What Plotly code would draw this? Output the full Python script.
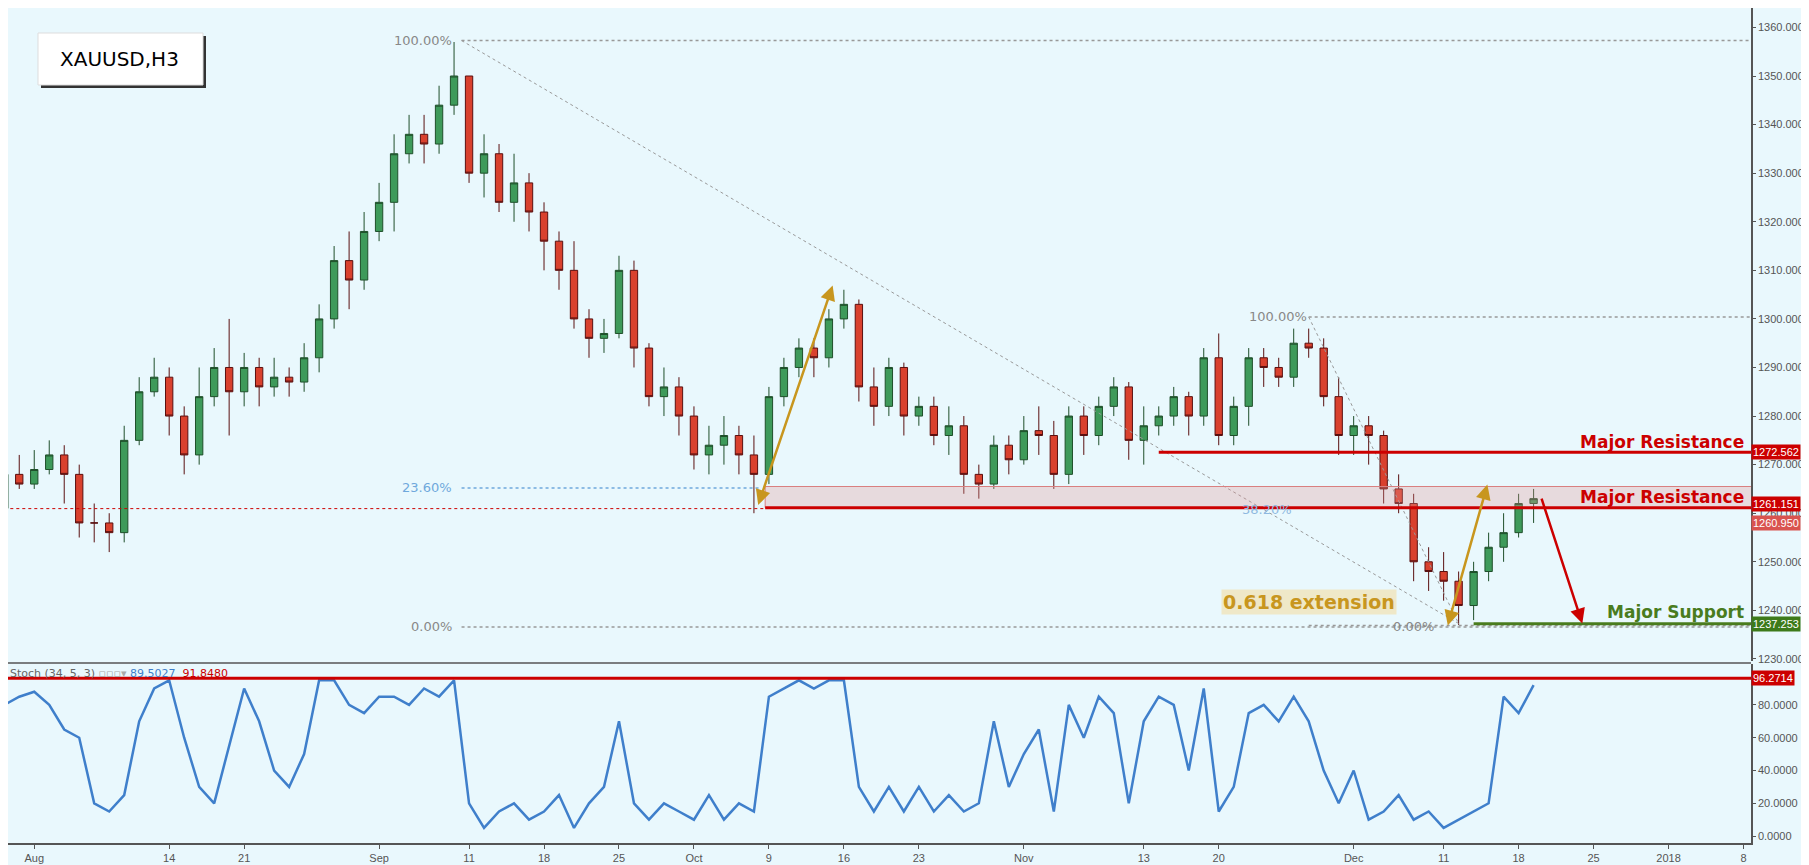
import plotly.graph_objects as go
import pandas as pd

dates = [d.strftime("%Y-%m-%d") for d in pd.bdate_range("2017-07-28", "2017-12-19")]

opens = [1261,1268,
 1266,1269,1272,1268,
 1258,1258,1256,1275,1285,
 1288,1280,1272,1284,1290,
 1285,1290,1286,1288,1287,
 1292,1300,1312,1308,1318,
 1324,1334,1338,1336,1344,
 1350,1330,1334,1324,1328,
 1322,1316,1310,1300,1296,
 1297,1310,1294,1284,1286,
 1280,1272,1274,1276,1272,
 1268,1284,1290,1294,1292,
 1300,1303,1286,1282,1290,
 1280,1282,1276,1278,1268,
 1266,1274,1271,1277,1276,
 1268,1280,1276,1282,1286,
 1275,1278,1280,1284,1280,
 1292,1276,1282,1292,1290,
 1288,1295,1294,1284,1276,
 1278,1276,1265,1262,1250,
 1248,1246,1241,1248,1253,
 1256,1262]
highs = [1270,1272,
 1273,1275,1274,1270,
 1262,1260,1278,1288,1292,
 1290,1282,1290,1294,1300,
 1293,1292,1292,1290,1295,
 1303,1315,1318,1322,1328,
 1338,1342,1342,1348,1357,
 1347,1338,1336,1334,1330,
 1324,1318,1316,1302,1300,
 1313,1312,1295,1290,1288,
 1282,1278,1280,1278,1276,
 1286,1292,1296,1296,1302,
 1306,1304,1290,1292,1291,
 1284,1284,1282,1280,1270,
 1276,1276,1280,1282,1279,
 1282,1282,1284,1288,1287,
 1282,1282,1286,1285,1294,
 1297,1284,1294,1294,1292,
 1298,1298,1296,1288,1280,
 1280,1277,1268,1264,1253,
 1252,1248,1250,1256,1260,
 1264,1265]
lows = [1259,1265,
 1265,1268,1262,1255,
 1254,1252,1254,1274,1284,
 1276,1268,1270,1282,1276,
 1282,1282,1284,1284,1285,
 1289,1298,1302,1306,1316,
 1318,1332,1332,1334,1342,
 1328,1325,1322,1320,1318,
 1310,1306,1298,1292,1293,
 1296,1290,1282,1280,1276,
 1269,1268,1270,1268,1260,
 1266,1282,1288,1288,1290,
 1298,1283,1278,1280,1276,
 1278,1274,1272,1264,1263,
 1265,1268,1270,1272,1265,
 1266,1272,1274,1280,1271,
 1270,1276,1278,1276,1278,
 1274,1274,1278,1286,1286,
 1286,1292,1282,1272,1272,
 1270,1262,1260,1246,1244,
 1242,1237,1238,1246,1250,
 1255,1258]
closes = [1268,1266,
 1269,1272,1268,1258,
 1258,1256,1275,1285,1288,
 1280,1272,1284,1290,1285,
 1290,1286,1288,1287,1292,
 1300,1312,1308,1318,1324,
 1334,1338,1336,1344,1350,
 1330,1334,1324,1328,1322,
 1316,1310,1300,1296,1297,
 1310,1294,1284,1286,1280,
 1272,1274,1276,1272,1268,
 1284,1290,1294,1292,1300,
 1303,1286,1282,1290,1280,
 1282,1276,1278,1268,1266,
 1274,1271,1277,1276,1268,
 1280,1276,1282,1286,1275,
 1278,1280,1284,1280,1292,
 1276,1282,1292,1290,1288,
 1295,1294,1284,1276,1278,
 1276,1265,1262,1250,1248,
 1246,1241,1248,1253,1256,
 1262,1263]
stoch = [80,85,
 88,80,65,60,
 20,15,25,70,90,
 95,60,30,20,55,
 90,70,40,30,50,
 95,95,80,75,85,
 85,80,90,85,95,
 20,5,15,20,10,
 15,25,5,20,30,
 70,20,10,20,15,
 10,25,10,20,15,
 85,90,95,90,95,
 95,30,15,30,15,
 30,15,25,15,20,
 70,30,50,65,15,
 80,60,85,75,20,
 70,85,80,40,90,
 15,30,75,80,70,
 85,70,40,20,40,
 10,15,25,10,15,
 5,10,15,20,85,
 75,92]

highs = [max(h, o, c) for h, o, c in zip(highs, opens, closes)]
lows = [min(l, o, c) for l, o, c in zip(lows, opens, closes)]

tick_vals = ["2017-08-01","2017-08-14","2017-08-21","2017-09-01","2017-09-11","2017-09-18","2017-09-25",
             "2017-10-02","2017-10-09","2017-10-16","2017-10-23","2017-11-01","2017-11-13","2017-11-20",
             "2017-12-01","2017-12-11","2017-12-18","2017-12-25","2018-01-01","2018-01-08"]
tick_text = ["Aug","14","21","Sep","11","18","25","Oct","9","16","23","Nov","13","20","Dec","11","18","25","2018","8"]

RED = "#CC0000"
ORANGE = "#C8961E"
GREEN = "#4A7C1E"
BG = "#E9F8FD"
AXFONT = dict(size=11, color="#555", family="Arial, Liberation Sans")
W, H, R, B = 1809, 865, 66, 30
PW, PH = W - R, H - B

fig = go.Figure()
fig.add_trace(go.Candlestick(x=dates, open=opens, high=highs, low=lows, close=closes,
    increasing=dict(line=dict(color="#1F4F2A", width=1), fillcolor="#3E9A5A"),
    decreasing=dict(line=dict(color="#5A1010", width=1), fillcolor="#D9412E"),
    whiskerwidth=0, xaxis="x", yaxis="y", showlegend=False, hoverinfo="skip"))
fig.add_trace(go.Scatter(x=dates, y=stoch, mode="lines", line=dict(color="#3F7FCB", width=2.5),
    xaxis="x", yaxis="y2", showlegend=False, hoverinfo="skip"))

RIGHT = "2018-01-09"
shapes = []
def hline(x0, x1, y, color, width=1, dash="solid"):
    shapes.append(dict(type="line", xref="x", yref="y", x0=x0, x1=x1 or RIGHT, y0=y, y1=y,
                       line=dict(color=color, width=width, dash=dash)))

hline("2017-09-08 12:00", None, 1357.3, "#999999", 1.5, "dot")
hline("2017-09-08 12:00", None, 1236.6, "#999999", 1.5, "dot")
hline("2017-09-08 12:00", "2017-10-06 12:00", 1265.2, "#6FA8DC", 1.5, "dot")
shapes.append(dict(type="line", xref="x", yref="y", x0="2017-09-08 12:00", y0=1357.3, x1="2017-12-12", y1=1237.3,
                   line=dict(color="#999999", width=1, dash="dot")))
hline("2017-11-28", None, 1300.4, "#999999", 1.5, "dot")
hline("2017-11-28", None, 1236.9, "#999999", 1.5, "dot")
shapes.append(dict(type="line", xref="x", yref="y", x0="2017-11-28", y0=1300.4, x1="2017-12-12", y1=1237.3,
                   line=dict(color="#999999", width=1, dash="dot")))
shapes.append(dict(type="rect", xref="x", yref="y", x0="2017-10-06 18:00", x1=RIGHT, y0=1261.15, y1=1265.5,
                   fillcolor="rgba(230,150,150,0.3)", line=dict(color="#D98080", width=1)))
hline("2017-10-06 18:00", None, 1261.15, RED, 3)
hline("2017-07-20", "2017-10-06 18:00", 1260.95, RED, 1, "dot")
hline("2017-11-14", None, 1272.562, RED, 3)
hline("2017-12-13", None, 1237.253, GREEN, 3)
shapes.append(dict(type="line", xref="paper", yref="y2", x0=0, x1=1, y0=96.2714, y1=96.2714, line=dict(color=RED, width=3)))
shapes.append(dict(type="line", xref="paper", yref="paper", x0=0, x1=1, y0=0.2155, y1=0.2155, line=dict(color="#555", width=1.5)))
shapes.append(dict(type="rect", xref="paper", yref="paper", x0=33/PW, x1=198/PW, y0=1-80/PH, y1=1-28/PH,
                   fillcolor="#333", line=dict(width=0), layer="above"))
shapes.append(dict(type="rect", xref="paper", yref="paper", x0=30/PW, x1=195/PW, y0=1-77/PH, y1=1-25/PH,
                   fillcolor="white", line=dict(color="#ddd", width=1), layer="above"))

ann = []
def txt(x, y, s, color, size=12, xanchor="center", yref="y", xref="x", bold=False, bg=None):
    d = dict(x=x, y=y, xref=xref, yref=yref, text=("<b>%s</b>" % s) if bold else s, showarrow=False,
             font=dict(color=color, size=size, family="Verdana, DejaVu Sans"), xanchor=xanchor, yanchor="middle")
    if bg:
        d.update(bgcolor=bg)
    ann.append(d)

txt("2017-09-08", 1357.3, "100.00%", "#888", 13, "right")
txt("2017-09-08", 1236.6, "0.00%", "#888", 13, "right")
txt("2017-09-08", 1265.2, "23.60%", "#6FA8DC", 13, "right")
txt("2017-11-28", 1300.4, "100.00%", "#888", 13, "right")
txt("2017-12-08 12:00", 1236.6, "0.00%", "#888", 13, "right")
txt("2017-11-27", 1260.7, "38.20%", "#8FB8E0", 13, "right")
txt(0.997, 1274.6, "Major Resistance", RED, 17, "right", xref="paper", bold=True)
txt(0.997, 1263.3, "Major Resistance", RED, 17, "right", xref="paper", bold=True)
txt(0.997, 1239.6, "Major Support", GREEN, 17, "right", xref="paper", bold=True)
txt("2017-11-28", 1241.7, "0.618 extension", ORANGE, 19, bold=True, bg="#EFE8C8")
txt(112/PW, 1-51/PH, "XAUUSD,H3", "black", 20, xref="paper", yref="paper")
ann.append(dict(x=0.0, y=0.2035, xref="paper", yref="paper", xanchor="left", yanchor="middle",
    showarrow=False, font=dict(size=11, family="Verdana, DejaVu Sans", color="#666"),
    text="Stoch (34, 5, 3) <span style='color:#aaa'>▫▫▫▾</span> <span style='color:#3F7FCB'>89.5027</span>  <span style='color:#CC0000'>91.8480</span>"))

def rlabel(y, s, bg, yref="y", yshift=0):
    ann.append(dict(x=1, y=y, xref="paper", yref=yref, text=s, showarrow=False, xanchor="left", yshift=yshift,
                    bgcolor=bg, font=dict(color="white", size=11, family="Arial, Liberation Sans"), borderpad=1))
rlabel(1272.562, "1272.562", RED)
rlabel(1261.151, "1261.151", RED, yshift=4)
rlabel(1260.95, "1260.950", "#D9534F", yshift=-14)
rlabel(1237.253, "1237.253", "#3D7A1A")
rlabel(96.2714, "96.2714", RED, "y2")

def arrow(x0, y0, x1, y1, color, both=False):
    ann.append(dict(x=x1, y=y1, ax=x0, ay=y0, xref="x", yref="y", axref="x", ayref="y", text="",
                    showarrow=True, arrowhead=2, arrowsize=1.2, arrowwidth=2.5, arrowcolor=color,
                    arrowside="end+start" if both else "end", startarrowhead=2, startarrowsize=1.2))
arrow("2017-10-06 06:00", 1261.4, "2017-10-13 06:00", 1306.9, ORANGE, True)
arrow("2017-12-11 06:00", 1236.6, "2017-12-13 22:00", 1265.9, ORANGE, True)
arrow("2017-12-19 12:00", 1263.3, "2017-12-22 06:00", 1237.3, RED)

fig.update_layout(
    width=W, height=H, margin=dict(l=0, r=R, t=0, b=B),
    plot_bgcolor=BG, paper_bgcolor=BG, shapes=shapes, annotations=ann,
    xaxis=dict(domain=[0, 1], anchor="y2", range=["2017-07-28 06:00", "2018-01-08 12:00"],
               rangebreaks=[dict(bounds=["sat", "mon"])], rangeslider=dict(visible=False),
               tickvals=tick_vals, ticktext=tick_text, showgrid=False, ticks="outside", ticklen=4,
               tickcolor="#555", showline=True, linecolor="#555", linewidth=1.5, tickfont=AXFONT),
    yaxis=dict(domain=[0.2175, 1], range=[1229.5, 1364], side="right", anchor="x", tickvals=list(range(1230, 1361, 10)),
               tickformat=".3f", showgrid=False, zeroline=False, ticks="outside", ticklen=3, tickcolor="#555",
               showline=True, linecolor="#555", linewidth=1.5, tickfont=AXFONT),
    yaxis2=dict(domain=[0, 0.2145], range=[-4.2, 105], side="right", anchor="x", tickvals=[0, 20, 40, 60, 80],
                tickformat=".4f", showgrid=False, zeroline=False, ticks="outside", ticklen=3, tickcolor="#555",
                showline=True, linecolor="#555", linewidth=1.5, tickfont=AXFONT),
)
fig.write_html("out.html")
